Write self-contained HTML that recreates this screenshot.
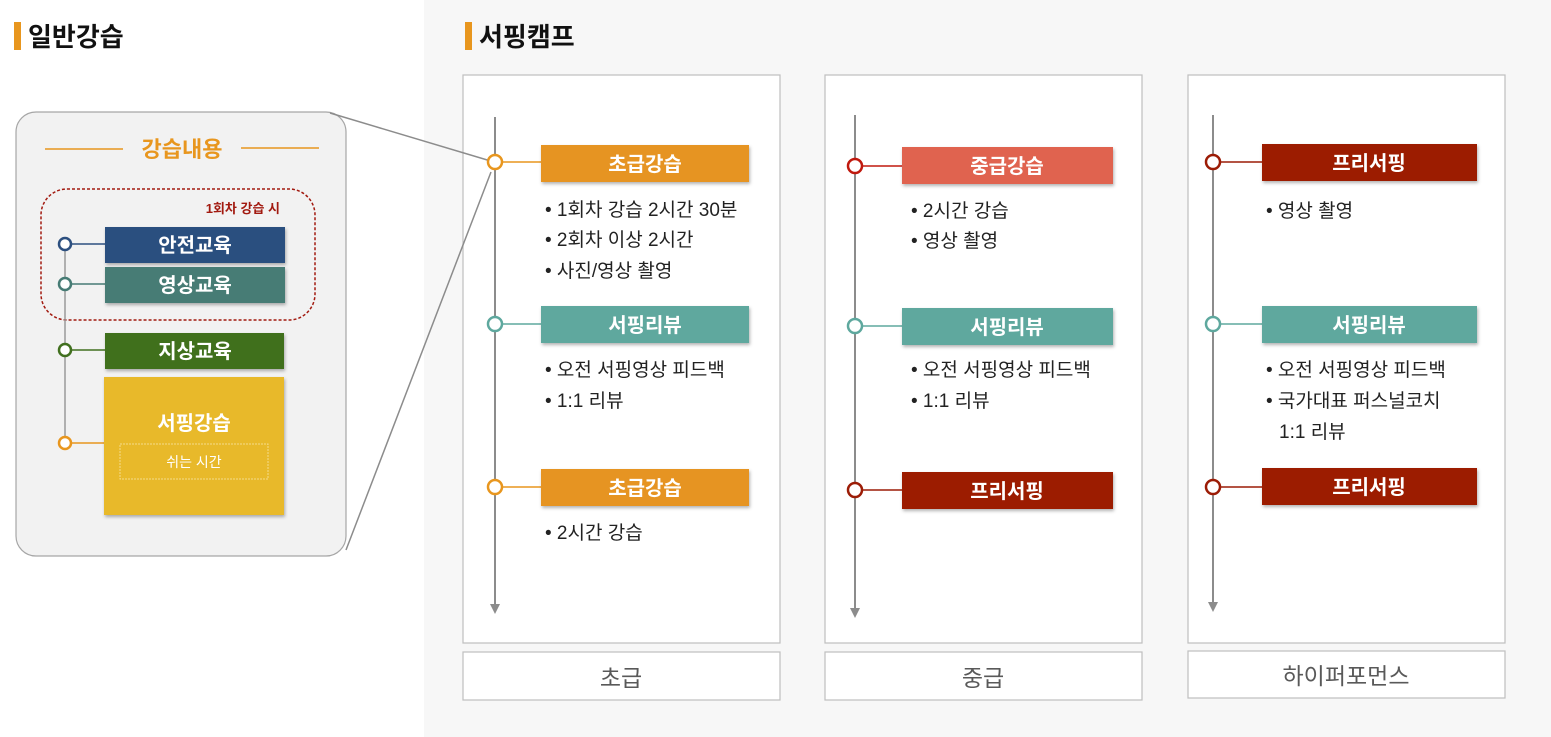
<!DOCTYPE html>
<html><head><meta charset="utf-8"><style>
html,body{margin:0;padding:0;background:#fff}
svg{display:block}
text{font-family:"Liberation Sans","Noto Sans CJK KR",sans-serif}
</style></head><body>
<svg width="1551" height="737" viewBox="0 0 1551 737" xmlns="http://www.w3.org/2000/svg">
<defs>
<filter id="sh" x="-5%" y="-10%" width="115%" height="140%"><feDropShadow dx="1" dy="2" stdDeviation="1.5" flood-color="#000" flood-opacity="0.3"/></filter>
</defs>
<rect x="424" y="0" width="1127" height="737" fill="#f7f7f7"/>
<!-- titles -->
<rect x="14" y="22" width="7" height="28" fill="#e8961e"/>
<text x="28" y="46" font-size="26" font-weight="bold" fill="#111">일반강습</text>
<rect x="465" y="22" width="7" height="28" fill="#e8961e"/>
<text x="479" y="46" font-size="26" font-weight="bold" fill="#111">서핑캠프</text>

<!-- left panel -->
<rect x="16" y="112" width="330" height="444" rx="20" fill="#f2f2f2" stroke="#a6a6a6" stroke-width="1.2"/>
<line x1="45" y1="149" x2="123" y2="149" stroke="#e8961e" stroke-width="1.5"/>
<line x1="241" y1="148" x2="319" y2="148" stroke="#e8961e" stroke-width="1.5"/>
<text x="182" y="157" font-size="22" font-weight="bold" fill="#e8961e" text-anchor="middle">강습내용</text>
<rect x="41" y="189" width="274" height="131" rx="26" fill="none" stroke="#a21a10" stroke-width="1.5" stroke-dasharray="3,2"/>
<text x="280" y="213" font-size="13" font-weight="bold" fill="#a21a10" text-anchor="end">1회차 강습 시</text>
<line x1="65" y1="244" x2="65" y2="443" stroke="#999" stroke-width="1.5"/>
<line x1="65" y1="244" x2="105" y2="244" stroke="#2c4f7f" stroke-width="1.5"/>
<line x1="65" y1="284" x2="105" y2="284" stroke="#467b74" stroke-width="1.5"/>
<line x1="65" y1="350" x2="105" y2="350" stroke="#41701f" stroke-width="1.5"/>
<line x1="65" y1="443" x2="105" y2="443" stroke="#e8961e" stroke-width="1.5"/>
<rect x="105" y="227" width="180" height="36" fill="#2c4f7f" filter="url(#sh)"/>
<text x="195" y="252" font-size="20" font-weight="bold" fill="#fff" text-anchor="middle">안전교육</text>
<rect x="105" y="267" width="180" height="36" fill="#467b74" filter="url(#sh)"/>
<text x="195" y="292" font-size="20" font-weight="bold" fill="#fff" text-anchor="middle">영상교육</text>
<rect x="105" y="333" width="179" height="36" fill="#41701f" filter="url(#sh)"/>
<text x="195" y="358" font-size="20" font-weight="bold" fill="#fff" text-anchor="middle">지상교육</text>
<rect x="104" y="377" width="180" height="138" fill="#e8b92a" filter="url(#sh)"/>
<text x="194" y="430" font-size="20" font-weight="bold" fill="#fff" text-anchor="middle">서핑강습</text>
<rect x="120" y="444" width="148" height="35" fill="none" stroke="#f5dc8a" stroke-width="1" stroke-dasharray="2,1"/>
<text x="194" y="467" font-size="14" fill="#fff" text-anchor="middle">쉬는 시간</text>
<circle cx="65" cy="244" r="6" fill="#fff" stroke="#2c4f7f" stroke-width="2.5"/>
<circle cx="65" cy="284" r="6" fill="#fff" stroke="#467b74" stroke-width="2.5"/>
<circle cx="65" cy="350" r="6" fill="#fff" stroke="#41701f" stroke-width="2.5"/>
<circle cx="65" cy="443" r="6" fill="#fff" stroke="#e8961e" stroke-width="2.5"/>

<!-- columns -->
<g fill="#fff" stroke="#bfbfbf" stroke-width="1.2">
<rect x="463" y="75" width="317" height="568"/>
<rect x="825" y="75" width="317" height="568"/>
<rect x="1188" y="75" width="317" height="568"/>
<rect x="463" y="652" width="317" height="48"/>
<rect x="825" y="652" width="317" height="48"/>
<rect x="1188" y="651" width="317" height="47"/>
</g>
<g font-size="23" fill="#595959" text-anchor="middle">
<text x="621" y="686">초급</text>
<text x="983" y="686">중급</text>
<text x="1346" y="684">하이퍼포먼스</text>
</g>

<!-- zoom lines -->
<line x1="330" y1="113" x2="494" y2="162" stroke="#8c8c8c" stroke-width="1.5"/>
<line x1="346" y1="550" x2="491" y2="172" stroke="#8c8c8c" stroke-width="1.5"/>

<!-- timelines -->
<g stroke="#8c8c8c" stroke-width="2">
<line x1="495" y1="117" x2="495" y2="606"/>
<line x1="855" y1="115" x2="855" y2="610"/>
<line x1="1213" y1="115" x2="1213" y2="604"/>
</g>
<g fill="#8c8c8c">
<polygon points="490,604 500,604 495,614"/>
<polygon points="850,608 860,608 855,618"/>
<polygon points="1208,602 1218,602 1213,612"/>
</g>

<!-- col1 -->
<line x1="495" y1="162" x2="541" y2="162" stroke="#e8961e" stroke-width="1.5"/>
<line x1="495" y1="324" x2="541" y2="324" stroke="#5ea89e" stroke-width="1.5"/>
<line x1="495" y1="487" x2="541" y2="487" stroke="#e8961e" stroke-width="1.5"/>
<rect x="541" y="145" width="208" height="37" fill="#e69421" filter="url(#sh)"/>
<text x="645" y="171" font-size="20" font-weight="bold" fill="#fff" text-anchor="middle">초급강습</text>
<rect x="541" y="306" width="208" height="37" fill="#5ea89e" filter="url(#sh)"/>
<text x="645" y="332" font-size="20" font-weight="bold" fill="#fff" text-anchor="middle">서핑리뷰</text>
<rect x="541" y="469" width="208" height="37" fill="#e69421" filter="url(#sh)"/>
<text x="645" y="495" font-size="20" font-weight="bold" fill="#fff" text-anchor="middle">초급강습</text>
<circle cx="495" cy="162" r="7" fill="#fff" stroke="#e8961e" stroke-width="2.5"/>
<circle cx="495" cy="324" r="7" fill="#fff" stroke="#5ea89e" stroke-width="2.5"/>
<circle cx="495" cy="487" r="7" fill="#fff" stroke="#e8961e" stroke-width="2.5"/>
<g font-size="19" fill="#222">
<text x="545" y="216">• 1회차 강습 2시간 30분</text>
<text x="545" y="246">• 2회차 이상 2시간</text>
<text x="545" y="277">• 사진/영상 촬영</text>
<text x="545" y="376">• 오전 서핑영상 피드백</text>
<text x="545" y="407">• 1:1 리뷰</text>
<text x="545" y="539">• 2시간 강습</text>
</g>

<!-- col2 -->
<line x1="855" y1="166" x2="902" y2="166" stroke="#c0190e" stroke-width="1.5"/>
<line x1="855" y1="326" x2="902" y2="326" stroke="#5ea89e" stroke-width="1.5"/>
<line x1="855" y1="490" x2="902" y2="490" stroke="#9c1c06" stroke-width="1.5"/>
<rect x="902" y="147" width="211" height="37" fill="#e06350" filter="url(#sh)"/>
<text x="1007" y="173" font-size="20" font-weight="bold" fill="#fff" text-anchor="middle">중급강습</text>
<rect x="902" y="308" width="211" height="37" fill="#5ea89e" filter="url(#sh)"/>
<text x="1007" y="334" font-size="20" font-weight="bold" fill="#fff" text-anchor="middle">서핑리뷰</text>
<rect x="902" y="472" width="211" height="37" fill="#9c1c06" filter="url(#sh)"/>
<text x="1007" y="498" font-size="20" font-weight="bold" fill="#fff" text-anchor="middle">프리서핑</text>
<circle cx="855" cy="166" r="7" fill="#fff" stroke="#c0190e" stroke-width="2.5"/>
<circle cx="855" cy="326" r="7" fill="#fff" stroke="#5ea89e" stroke-width="2.5"/>
<circle cx="855" cy="490" r="7" fill="#fff" stroke="#9c1c06" stroke-width="2.5"/>
<g font-size="19" fill="#222">
<text x="911" y="217">• 2시간 강습</text>
<text x="911" y="247">• 영상 촬영</text>
<text x="911" y="376">• 오전 서핑영상 피드백</text>
<text x="911" y="407">• 1:1 리뷰</text>
</g>

<!-- col3 -->
<line x1="1213" y1="162" x2="1262" y2="162" stroke="#9c1c06" stroke-width="1.5"/>
<line x1="1213" y1="324" x2="1262" y2="324" stroke="#5ea89e" stroke-width="1.5"/>
<line x1="1213" y1="487" x2="1262" y2="487" stroke="#9c1c06" stroke-width="1.5"/>
<rect x="1262" y="144" width="215" height="37" fill="#9c1c06" filter="url(#sh)"/>
<text x="1369" y="170" font-size="20" font-weight="bold" fill="#fff" text-anchor="middle">프리서핑</text>
<rect x="1262" y="306" width="215" height="37" fill="#5ea89e" filter="url(#sh)"/>
<text x="1369" y="332" font-size="20" font-weight="bold" fill="#fff" text-anchor="middle">서핑리뷰</text>
<rect x="1262" y="468" width="215" height="37" fill="#9c1c06" filter="url(#sh)"/>
<text x="1369" y="494" font-size="20" font-weight="bold" fill="#fff" text-anchor="middle">프리서핑</text>
<circle cx="1213" cy="162" r="7" fill="#fff" stroke="#9c1c06" stroke-width="2.5"/>
<circle cx="1213" cy="324" r="7" fill="#fff" stroke="#5ea89e" stroke-width="2.5"/>
<circle cx="1213" cy="487" r="7" fill="#fff" stroke="#9c1c06" stroke-width="2.5"/>
<g font-size="19" fill="#222">
<text x="1266" y="217">• 영상 촬영</text>
<text x="1266" y="376">• 오전 서핑영상 피드백</text>
<text x="1266" y="407">• 국가대표 퍼스널코치</text>
<text x="1279" y="438">1:1 리뷰</text>
</g>
</svg>
</body></html>
